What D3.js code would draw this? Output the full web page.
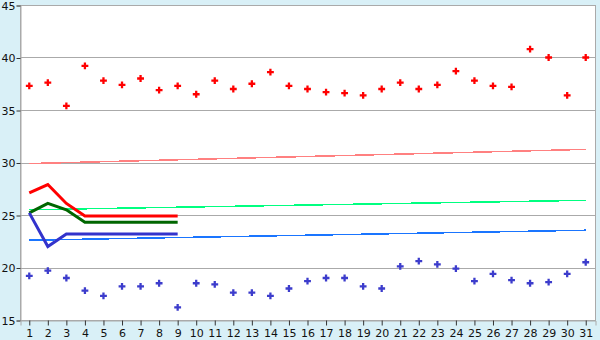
<!DOCTYPE html>
<html lang="en">
<head>
<meta charset="UTF-8">
<title>chart</title>
<style>
    html, body { margin: 0; padding: 0; background: #d9f0f7; }
    svg { display: block; }
    text { font-family: "DejaVu Sans", Verdana, sans-serif; font-size: 11px; fill: #111; }
</style>
<script src="https://cdn.jsdelivr.net/npm/d3@7"></script>
</head>
<body>
<svg id="chart" width="600" height="340"></svg>
<script>
const days = d3.range(1, 32);
const yTicks = [15, 20, 25, 30, 35, 40, 45];

const highs = [37.3, 37.6, 35.4, 39.2, 37.8, 37.4, 38.0, 36.9, 37.3, 36.5,
               37.8, 37.0, 37.5, 38.6, 37.3, 37.0, 36.7, 36.6, 36.4, 37.0,
               37.6, 37.0, 37.4, 38.7, 37.8, 37.3, 37.2, 40.8, 40.0, 36.4, 40.0];
const lows = [19.2, 19.7, 19.0, 17.8, 17.3, 18.2, 18.2, 18.5, 16.2, 18.5,
              18.4, 17.6, 17.6, 17.3, 18.0, 18.7, 19.0, 19.0, 18.2, 18.0,
              20.1, 20.6, 20.3, 19.9, 18.7, 19.4, 18.8, 18.5, 18.6, 19.4, 20.5];

// straight reference lines, start and end values (day 1 and day 31)
const refHigh = [29.9, 31.25];
const refMean = [25.5, 26.4];
const refLow = [22.6, 23.55];

// thick lines, days 1..9
const maxLine = [27.1, 27.9, 26.1, 24.9, 24.9, 24.9, 24.9, 24.9, 24.9];
const meanLine = [25.2, 26.1, 25.5, 24.3, 24.3, 24.3, 24.3, 24.3, 24.3];
const minLine = [25.2, 22.0, 23.2, 23.2, 23.2, 23.2, 23.2, 23.2, 23.2];

const svg = d3.select("#chart");
const plotLeft = 20, plotRight = 595, plotTop = 5, plotBottom = 320;

const x = d3.scaleBand().domain(days).range([plotLeft, plotRight]).padding(0);
const cx = d => x(d) + x.bandwidth() / 2;
const y = d3.scaleLinear().domain([15, 45]).range([plotBottom, plotTop]);

svg.append("rect")
    .attr("x", plotLeft + 0.5).attr("y", plotTop + 0.5)
    .attr("width", plotRight - plotLeft).attr("height", plotBottom - plotTop)
    .attr("fill", "white")
    .attr("stroke", "#aaaaaa");

// gridlines
svg.append("g")
    .selectAll("line")
    .data(yTicks)
    .join("line")
    .attr("x1", plotLeft).attr("x2", plotRight)
    .attr("y1", d => Math.round(y(d)) + 0.5)
    .attr("y2", d => Math.round(y(d)) + 0.5)
    .attr("stroke", "#aaaaaa");

// y axis
const yAxis = svg.append("g")
    .attr("transform", `translate(${plotLeft + 0.5},0.5)`)
    .call(d3.axisLeft(y).tickValues(yTicks).tickSize(4).tickPadding(1));
yAxis.select(".domain").attr("stroke", "#aaaaaa");
yAxis.selectAll(".tick line").attr("stroke", "#333");
yAxis.selectAll("text").style("font-size", "11px").attr("fill", "#111");

// x axis
const xAxis = svg.append("g")
    .attr("transform", `translate(0.5,${plotBottom + 0.5})`)
    .call(d3.axisBottom(x).tickSize(5).tickPadding(4));
xAxis.select(".domain").attr("stroke", "#aaaaaa");
xAxis.selectAll(".tick line").attr("stroke", "#333");
xAxis.selectAll("text").attr("fill", "#111");

// thin straight reference lines
const refs = [
    {vals: refHigh, color: "#ff8080"},
    {vals: refMean, color: "#00ff80"},
    {vals: refLow, color: "#1a75ff"}
];
svg.append("g")
    .selectAll("line")
    .data(refs)
    .join("line")
    .attr("x1", cx(1)).attr("x2", cx(31))
    .attr("y1", d => y(d.vals[0]))
    .attr("y2", d => y(d.vals[1]))
    .attr("stroke", d => d.color)
    .attr("stroke-width", 1.5)
    .attr("shape-rendering", "crispEdges");

// thick lines
const line = d3.line()
    .x((d, i) => cx(days[i]))
    .y(d => y(d));
const thick = [
    {vals: maxLine, color: "#ff0000"},
    {vals: meanLine, color: "#006600"},
    {vals: minLine, color: "#3333cc"}
];
svg.append("g")
    .selectAll("path")
    .data(thick)
    .join("path")
    .attr("d", d => line(d.vals))
    .attr("fill", "none")
    .attr("stroke", d => d.color)
    .attr("stroke-width", 3);

// markers
const cross = d3.symbol().type(d3.symbolCross).size(26);
svg.append("g")
    .selectAll("path")
    .data(highs)
    .join("path")
    .attr("d", cross)
    .attr("transform", (d, i) => `translate(${cx(days[i])},${y(d)})`)
    .attr("fill", "#ff0000");

svg.append("g")
    .selectAll("path")
    .data(lows)
    .join("path")
    .attr("d", cross)
    .attr("transform", (d, i) => `translate(${cx(days[i])},${y(d)})`)
    .attr("fill", "#3c3ccc");
</script>
</body>
</html>
